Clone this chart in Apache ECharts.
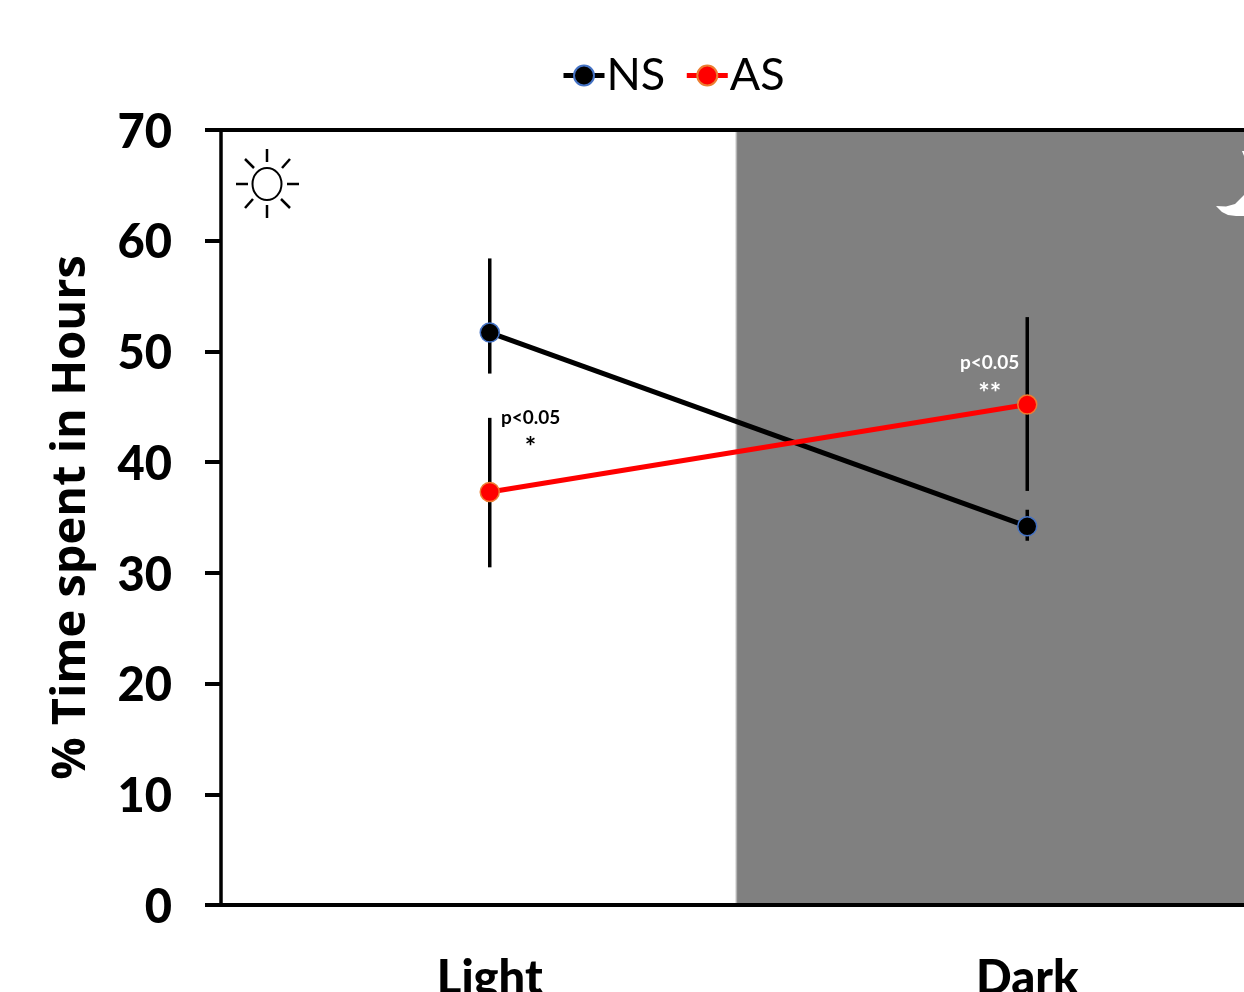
<!DOCTYPE html>
<html><head><meta charset="utf-8">
<style>html,body{margin:0;padding:0;background:#fff}#c{width:1244px;height:992px}</style>
<script src="https://cdn.jsdelivr.net/npm/echarts@6/dist/echarts.min.js"></script>
</head><body><div id="c"></div>
<script>
const categories = ['Light','Dark'];
const nsValues = [51.7,34.2];
const asValues = [37.3,45.2];
const nsLow = [48.0,32.9];
const nsHigh = [58.4,35.7];
const asLow = [30.5,37.4];
const asHigh = [44.0,53.1];
const darkStart = 0.956;
const darkEnd = 2;
const noteX = [0.576,0.576,1.43,1.43];
const noteY = [44.0,41.3,48.95,46.2];
const noteText = ['p<0.05','*','p<0.05','**'];
const font = 'Lato';
const chart = echarts.init(document.getElementById('c'),null,{renderer:'canvas'});
function errorSeries(low,high){
  return {type:'custom',xAxisIndex:0,yAxisIndex:0,z:3,silent:true,legendHoverLink:false,clip:false,
    data:categories.map((c,i)=>[i,low[i],high[i]]),
    renderItem(p,api){
      const a=api.coord([api.value(0),api.value(1)]),b=api.coord([api.value(0),api.value(2)]);
      return {type:'line',shape:{x1:a[0],y1:a[1],x2:b[0],y2:b[1]},style:{stroke:'#000',lineWidth:3.5}};
    }};
}
function lineSeries(name,values,color,border){
  return {name,type:'line',xAxisIndex:0,yAxisIndex:0,z:5,data:values,symbol:'circle',symbolSize:19,
    lineStyle:{color,width:5},itemStyle:{color,borderColor:border,borderWidth:1.5},animation:false};
}
chart.setOption({
  animation:false,
  backgroundColor:'#fff',
  grid:{left:221,top:130,width:1075,height:775,containLabel:false,outerBoundsMode:'none'},
  legend:{data:['NS','AS'],top:48,left:556,itemWidth:41,itemHeight:25,itemGap:19,
    lineStyle:{width:5},
    textStyle:{fontFamily:font,fontSize:45,color:'#000',padding:[0,0,0,-3]}},
  xAxis:[
    {type:'category',data:categories,position:'bottom',z:10,
     axisLine:{show:true,onZero:false,lineStyle:{color:'#000',width:4}},axisTick:{show:false},
     axisLabel:{fontFamily:font,fontWeight:900,fontSize:47,color:'#000',margin:50}},
    {type:'value',min:0,max:darkEnd,show:false},
    {type:'category',data:categories,position:'top',z:10,
     axisLine:{show:true,onZero:false,lineStyle:{color:'#000',width:4}},axisTick:{show:false},axisLabel:{show:false}}
  ],
  yAxis:[{type:'value',min:0,max:70,interval:10,z:10,
    name:'% Time spent in Hours',nameLocation:'middle',nameGap:126,nameRotate:90,
    nameTextStyle:{fontFamily:'Open Sans',fontWeight:'bold',fontSize:47,color:'#000'},
    axisLine:{show:true,lineStyle:{color:'#000',width:3.5}},
    axisTick:{show:true,length:16,lineStyle:{color:'#000',width:4}},
    splitLine:{show:false},
    axisLabel:{fontFamily:font,fontWeight:900,fontSize:47,color:'#000',margin:49,verticalAlign:'top',lineHeight:5}}],
  series:[
    {type:'line',xAxisIndex:1,yAxisIndex:0,data:[],z:1,silent:true,
     markArea:{silent:true,itemStyle:{color:new echarts.graphic.LinearGradient(0,0,1,0,[
       {offset:0,color:'#ffffff'},{offset:0.005,color:'#808080'},{offset:1,color:'#808080'}])},
       data:[[{xAxis:darkStart},{xAxis:darkEnd}]]}},
    errorSeries(nsLow,nsHigh),
    errorSeries(asLow,asHigh),
    lineSeries('NS',nsValues,'#000','#4472C4'),
    lineSeries('AS',asValues,'#ff0000','#ED7D31'),
    {type:'scatter',xAxisIndex:1,yAxisIndex:0,symbolSize:0,z:6,silent:true,itemStyle:{opacity:1},
     data:noteText.map((t,i)=>({value:[noteX[i],noteY[i]],
       label:{show:true,position:'inside',formatter:()=>t,fontFamily:font,fontWeight:'bold',
         fontSize:t==='p<0.05'?19:27,opacity:1,textBorderWidth:0,color:noteX[i]>darkStart?'#fff':'#000'}}))}
  ],
  graphic:[
    {type:'ellipse',silent:true,z:10,shape:{cx:267,cy:184,rx:14.5,ry:16},style:{fill:'none',stroke:'#000',lineWidth:2}},
    ...[[267,149,267,162],[267,205,267,218],[236,184,248,184],[287,184,299,184],[245,159,254,168],[281,199,290,208],[290,159,282,168],[253,199,245,208]]
      .map(s=>({type:'line',silent:true,z:10,shape:{x1:s[0],y1:s[1],x2:s[2],y2:s[3]},style:{stroke:'#000',lineWidth:2.5}})),
    {type:'polygon',silent:true,z:10,shape:{points:[[1216,206],[1226,206.5],[1235,204],[1244,195],[1244,216],[1236,216],[1228,215],[1222,212]]},style:{fill:'#fff'}},
    {type:'polygon',silent:true,z:10,shape:{points:[[1242,151],[1244,151],[1244,156]]},style:{fill:'#fff'}}
  ]
});
</script></body></html>
